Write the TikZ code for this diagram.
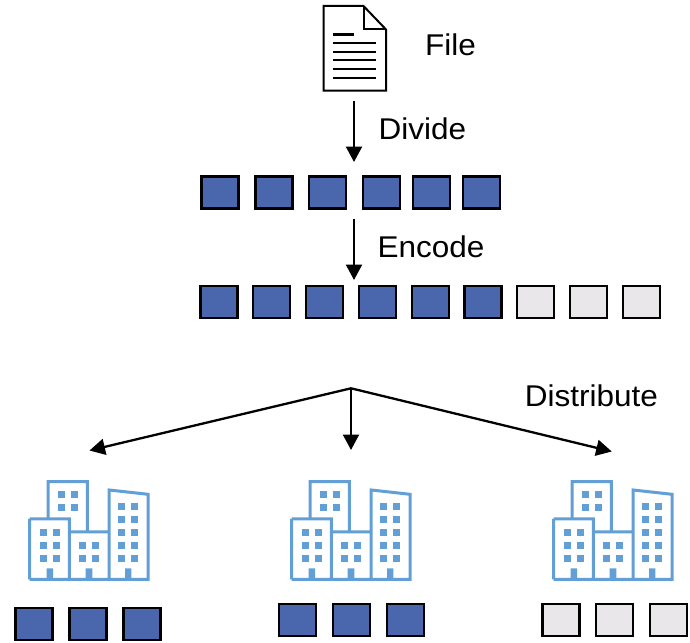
\documentclass[tikz,border=0pt]{standalone}
\usepackage{fontspec}
\setmainfont[FakeStretch=1.05]{Liberation Sans}
\usetikzlibrary{arrows.meta}
\definecolor{blockblue}{HTML}{4A67AD}
\definecolor{blockgray}{HTML}{E9E7EA}
\definecolor{bldgblue}{HTML}{629FD6}
\tikzset{
  x=1pt,y=-1pt,
  blueblock/.style={draw=black,fill=blockblue,line width=2.2pt,minimum width=37pt,minimum height=32pt,inner sep=0pt},
  grayblock/.style={blueblock,fill=blockgray},
  flow/.style={draw=black,line width=2.3pt,-{Triangle[length=15.5pt,width=16pt]}},
  lbl/.style={font=\fontsize{30}{32}\selectfont,inner sep=0pt,text=black},
  bldg/.pic={
    \begin{scope}[scale=1/3,shift={(-29,-328)}]
      \draw[bldgblue,line width=3pt,miter limit=10]
        (84,147)--(84,35)--(202,35)--(202,186)
        (148,186)--(267,186)
        (29,147)--(148,147)--(148,328)
        (29,328)--(29,147)
        (267,328)--(267,60)--(384,73)--(384,328)--cycle
        (29,328)--(384,328);
      \fill[bldgblue]
        (80,295) rectangle (99,328) (197,295) rectangle (217,328) (315,295) rectangle (334,328);
      \foreach \wx/\wy in {60/177,99/177,60/216,99/216,60/255,99/255,
          114/63,153/63,114/102,153/102,
          177/216,217/216,177/255,217/255,
          294/99,333/99,294/138,333/138,294/177,333/177,294/216,333/216,294/255,333/255}
        \fill[bldgblue] (\wx,\wy) rectangle ++(20,20);
    \end{scope}
  }
}
\begin{document}
\begin{tikzpicture}
\useasboundingbox (0,0) rectangle (690,642);
% file icon
\draw[black,line width=2pt,line join=miter,fill=white]
  (323.5,6)--(363.5,6)--(386,29.5)--(386,90.5)--(323.5,90.5)--cycle;
\draw[black,line width=2pt] (363.5,6)--(363.5,29.5)--(386,29.5);
\draw[black,line width=2.6pt] (333,34.3)--(354,34.3);
\foreach \ly in {43,51.7,60.3,69,77.7}
  \draw[black,line width=2pt] (333,\ly)--(376,\ly);
\node[lbl] (file) at (450.5,45) {File};
\node[lbl] (divide) at (422.5,129) {Divide};
\node[lbl] (encode) at (431,247) {Encode};
\node[lbl] (distribute) at (591.5,396) {Distribute};
% row one
\foreach \i/\cx in {0/220,1/274,2/327.5,3/381.5,4/431.5,5/481.5}
  \node[blueblock] (a\i) at (\cx,192.5) {};
% row two
\foreach \i in {0,...,5}
  \node[blueblock] (b\i) at ({219+52.8*\i},301.7) {};
\foreach \i in {6,7,8}
  \node[grayblock] (b\i) at ({219+52.8*\i},301.7) {};
% arrows
\coordinate (d0) at (354,101);
\coordinate (d1) at (354,162);
\coordinate (e0) at (354,219);
\coordinate (e1) at (354,280);
\coordinate (hub) at (351,388.3);
\coordinate (tl) at (89.5,450.5);
\coordinate (tm) at (351,450);
\coordinate (tr) at (611.7,451.5);
\draw[flow] (d0)--(d1);
\draw[flow] (e0)--(e1);
\draw[flow] (hub)--(tl);
\draw[flow] (hub)--(tm);
\draw[flow] (hub)--(tr);
% buildings
\pic at (29.7,579.3) {bldg};
\pic at (291.7,579.3) {bldg};
\pic at (553.7,579.3) {bldg};
% bottom blocks
\foreach \i/\cx in {0/34,1/88,2/142}
  \node[blueblock] (l\i) at (\cx,624) {};
\foreach \i/\cx in {0/297.5,1/351.5,2/405.5}
  \node[blueblock] (m\i) at (\cx,620) {};
\foreach \i/\cx in {0/561,1/614.5,2/668.5}
  \node[grayblock] (r\i) at (\cx,620) {};
\end{tikzpicture}
\end{document}
